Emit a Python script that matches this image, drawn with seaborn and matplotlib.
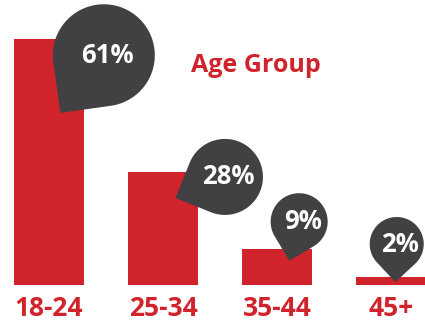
import numpy as np
import pandas as pd
import matplotlib
matplotlib.use("Agg")
import matplotlib.pyplot as plt
import seaborn as sns
from matplotlib.patches import Polygon

# ---- data ----
categories = ["18-24", "25-34", "35-44", "45+"]
shares = [61, 28, 9, 2]
value_labels = ["61%", "28%", "9%", "2%"]
title_text = "Age Group"

# ---- style ----
RED = "#D0232B"
DARK = "#414042"
# pin layout: (tip x offset in category units, tip depth below bar top in %, direction deg, radius px)
pin_layout = [(0.10, 18.3, 53, 51), (0.11, 6.4, 23, 38), (0.11, 3.0, 76, 28.5), (0.04, 1.3, 88, 27)]

sns.set_theme(style="white")
plt.rcParams["font.family"] = ["Open Sans", "DejaVu Sans"]

W, H = 425, 323
fig = plt.figure(figsize=(W / 100, H / 100), dpi=100)
ax = fig.add_axes([0, 38 / H, 1, 285 / H])
df = pd.DataFrame({"age": categories, "share": shares})
sns.barplot(data=df, x="age", y="share", color=RED, saturation=1, width=0.61,
            ax=ax, edgecolor="none", linewidth=0)
ax.set_xlim(-0.43, 3.30)
ax.set_ylim(0, 70.7)
sns.despine(ax=ax, left=True, bottom=True)
ax.set_yticks([])
ax.set_xlabel("")
ax.set_ylabel("")
ax.tick_params(axis="x", length=0, pad=22.3, labelsize=19, labelcolor=RED)
for lab in ax.get_xticklabels():
    lab.set_fontweight("bold")
    lab.set_verticalalignment("baseline")

# ---- pins ----
inv = fig.transFigure.inverted()
for i, (dx, depth, ang, r) in enumerate(pin_layout):
    tip = ax.transData.transform((i + dx, shares[i] - depth))
    a = np.deg2rad(ang)
    d = r * np.sqrt(2)
    c = tip + d * np.array([np.cos(a), np.sin(a)])
    phi = a + np.pi
    t = np.linspace(phi + np.pi / 4, phi + 2 * np.pi - np.pi / 4, 240)
    arc = c + r * np.column_stack([np.cos(t), np.sin(t)])
    pts = np.vstack([tip, arc])
    poly = Polygon(inv.transform(pts), closed=True, transform=fig.transFigure,
                   facecolor=DARK, edgecolor="none", zorder=3)
    fig.add_artist(poly)
    tx, ty = inv.transform((c[0] + 3.5, c[1] - 7.5))
    fig.text(tx, ty, value_labels[i], ha="center", va="baseline", color="white",
             fontsize=18.5, fontweight="bold", zorder=4)

fig.text(256 / W, (H - 72) / H, title_text, ha="center", va="baseline",
         color=RED, fontsize=18, fontweight="bold")

fig.savefig("out.png", dpi=100)
